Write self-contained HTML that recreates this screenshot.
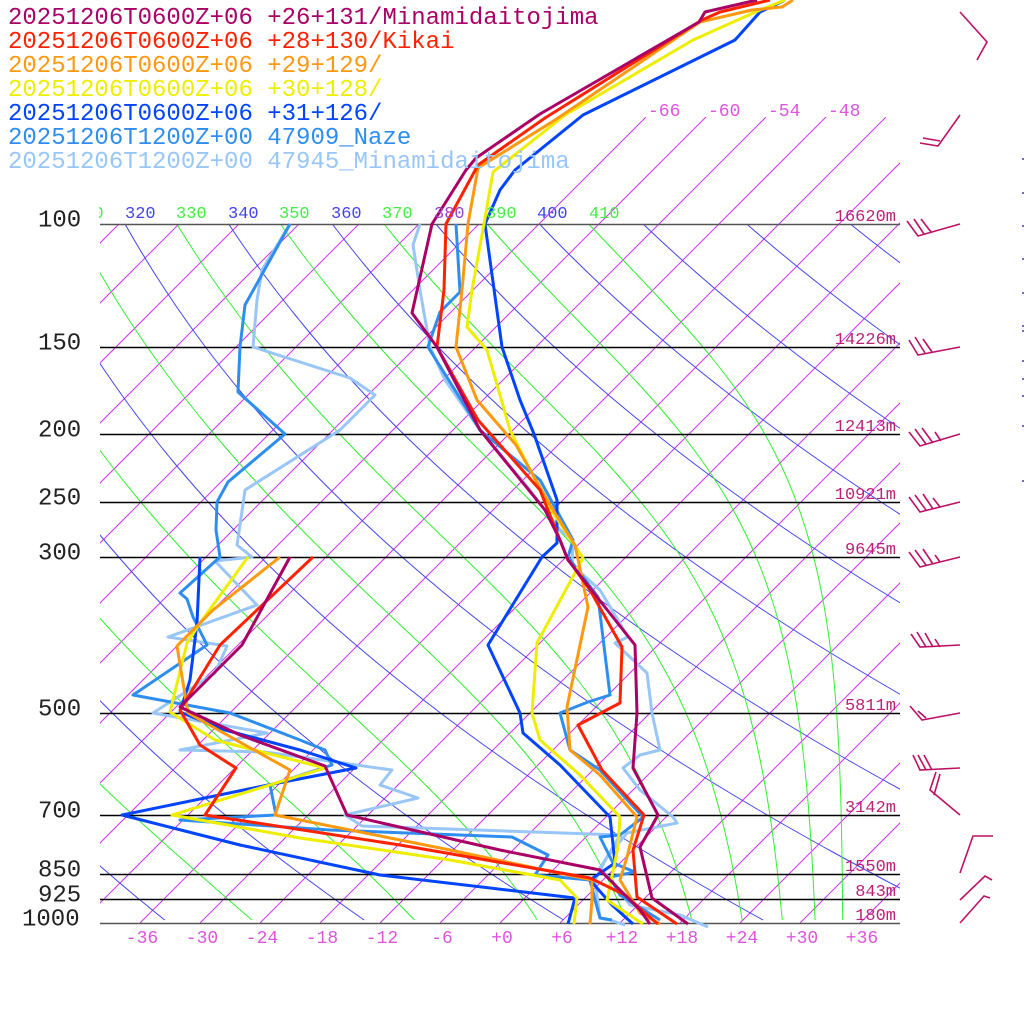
<!DOCTYPE html>
<html><head><meta charset="utf-8"><style>
html,body{margin:0;padding:0;background:#fff;}
svg{display:block;}
text{font-family:"Liberation Mono","DejaVu Sans Mono",monospace;}
</style></head><body>
<svg id="s" width="1024" height="1024" viewBox="0 0 1024 1024" xmlns="http://www.w3.org/2000/svg">
<defs>
<clipPath id="cp"><rect x="100" y="224" width="800" height="699"/></clipPath>
<clipPath id="cpi"><rect x="100" y="117" width="800" height="806"/></clipPath>
</defs>
<g id="grid"></g>
<g id="data" fill="none" stroke-width="3" stroke-linejoin="round"></g>
<g id="barbs" fill="none" stroke="#bb1166" stroke-width="1.6"></g>
<g id="txt"></g>
</svg>
<script>
var NS="http://www.w3.org/2000/svg";
function el(p,tag,a,t){var e=document.createElementNS(NS,tag);for(var k in a)e.setAttribute(k,a[k]);if(t!==undefined)e.textContent=t;p.appendChild(e);return e;}
var grid=document.getElementById('grid'),data=document.getElementById('data'),barbs=document.getElementById('barbs'),txt=document.getElementById('txt');
var K=303.6;
function Y(p){return 923-K*Math.log(1000/p);}
function P(y){return 1000*Math.exp(-(923-y)/K);}
function X(T,y){return 500+10*T+(923-y);}
var gi=el(grid,'g',{'clip-path':'url(#cpi)',stroke:'#cc33ee','stroke-width':'1'});
for(var T=-150;T<=42;T+=6){
  var ytop=(T>=-66)?117:224;
  el(gi,'line',{x1:X(T,923),y1:923,x2:X(T,ytop),y2:ytop});
}
var gd=el(grid,'g',{'clip-path':'url(#cp)',fill:'none',stroke:'#4444ee','stroke-width':'1'});
for(var th=200;th<=520;th+=20){
  var pts=[];for(var y=224;y<=923;y+=4){var p=P(y);var Tk=th*Math.pow(p/1000,0.2857);pts.push(X(Tk-273.15,y).toFixed(1)+','+y);}
  el(gd,'polyline',{points:pts.join(' ')});
}
function es(Tc){return 6.112*Math.exp(17.67*Tc/(Tc+243.5));}
function the(Tk,p){var e=es(Tk-273.15);if(e>p*0.5)e=p*0.5;var r=0.622*e/(p-e);return Tk*Math.pow(1000/p,0.2857)*Math.exp(2.5e6*r/(1004*Tk));}
var gm=el(grid,'g',{'clip-path':'url(#cp)',fill:'none',stroke:'#33ee33','stroke-width':'1'});
for(var te=230;te<=410;te+=20){
  var pts=[];for(var y=224;y<=923;y+=4){var p=P(y);var lo=150,hi=345;
    for(var i=0;i<40;i++){var m=(lo+hi)/2;if(the(m,p)<te)lo=m;else hi=m;}
    pts.push(X(lo-273.15,y).toFixed(1)+','+y);}
  el(gm,'polyline',{points:pts.join(' ')});
}
[[310,'#44ee44',73],[320,'#4444ee',125],[330,'#44ee44',176],[340,'#4444ee',228],[350,'#44ee44',279],[360,'#4444ee',331],[370,'#44ee44',382],[380,'#9944cc',434],[390,'#44ee44',486],[400,'#4444ee',537],[410,'#44ee44',589]].forEach(function(a){
  el(txt,'text',{x:a[2],y:218,fill:a[1],'font-size':'17'},String(a[0]));
});
el(txt,'rect',{x:0,y:200,width:99,height:20,fill:'#fff'});
[[-66,648],[-60,708],[-54,768],[-48,828]].forEach(function(a){el(txt,'text',{x:a[1],y:116,fill:'#dd55dd','font-size':'18'},String(a[0]));});
[[100,'100',38],[150,'150',38],[200,'200',38],[250,'250',38],[300,'300',38],[500,'500',38],[700,'700',38],[850,'850',38],[925,'925',38],[1000,'1000',22]].forEach(function(a){
  var y=Math.round(Y(a[0]))+0.5;
  el(grid,'line',{x1:100,y1:y,x2:900,y2:y,stroke:a[0]==1000||a[0]==100?'#555':'#000','stroke-width':'1.5'});
  el(txt,'text',{x:a[2],y:y+2,fill:'#222','font-size':'24'},a[1]);
});
[[100,'16620m'],[150,'14226m'],[200,'12413m'],[250,'10921m'],[300,'9645m'],[500,'5811m'],[700,'3142m'],[850,'1550m'],[925,'843m'],[1000,'180m']].forEach(function(a){
  el(txt,'text',{x:896,y:Math.round(Y(a[0]))-3,fill:'#bb2277','font-size':'17','text-anchor':'end'},a[1]);
});
for(var T=-36;T<=36;T+=6){el(txt,'text',{x:500+10*T+2,y:943,fill:'#dd55dd','font-size':'18','text-anchor':'middle'},(T>=0?'+':'')+T);}
[['20251206T0600Z+06 +26+131/Minamidaitojima','#aa0066'],['20251206T0600Z+06 +28+130/Kikai','#ff2200'],['20251206T0600Z+06 +29+129/','#ff9911'],['20251206T0600Z+06 +30+128/','#eeee00'],['20251206T0600Z+06 +31+126/','#0044ff'],['20251206T1200Z+00 47909_Naze','#2e8ef0'],['20251206T1200Z+00 47945_Minamidaitojima','#99c6f8']].forEach(function(a,i){
  el(txt,'text',{x:8,y:24+24*i,fill:a[1],'font-size':'24'},a[0]);
});
var S={
'#99c6f8':[
 [[420,224],[413,245],[420,290],[430,347],[445,380],[480,430],[530,490],[560,530],[573,540],[572,565],[600,590],[628,637],[615,643],[647,673],[652,713],[660,750],[640,755],[623,768],[640,790],[673,817],[677,823],[627,833],[607,857],[600,868],[615,885],[630,905],[680,915],[708,927]],
 [[290,224],[262,270],[257,300],[253,347],[350,378],[375,395],[340,430],[245,490],[240,525],[237,545],[252,557],[215,561],[257,605],[168,637],[227,646],[215,673],[153,713],[267,733],[180,750],[265,752],[392,770],[380,785],[418,798],[345,815],[362,826],[620,835],[607,857],[595,880],[600,918],[610,920],[625,925]]],
'#2e8ef0':[
 [[456,224],[460,292],[440,312],[432,335],[428,347],[480,430],[540,480],[573,540],[568,557],[598,597],[610,695],[588,702],[560,713],[570,750],[600,770],[643,817],[642,818],[620,835],[600,837],[613,863],[635,872],[610,877],[620,895],[660,920]],
 [[290,224],[245,305],[240,347],[238,392],[285,434],[228,482],[217,502],[216,530],[220,557],[180,593],[187,599],[193,617],[207,645],[133,695],[230,713],[300,740],[325,750],[332,765],[270,785],[276,815],[180,820],[330,830],[512,837],[548,855],[535,875],[590,880],[595,900],[600,918],[612,920]]],
'#0044ff':[
 [[785,0],[760,12],[735,40],[583,115],[515,170],[500,190],[485,224],[502,347],[520,400],[534,434],[557,500],[557,543],[542,557],[488,645],[520,713],[523,733],[560,765],[610,817],[615,863],[590,880],[612,905],[633,924]],
 [[200,557],[197,623],[190,680],[180,712],[225,730],[300,750],[356,768],[268,785],[122,815],[240,845],[380,875],[575,898],[568,924]]],
'#eeee00':[
 [[785,0],[760,10],[693,40],[565,115],[493,172],[484,224],[472,290],[467,327],[487,350],[510,430],[548,505],[583,558],[537,643],[532,713],[540,740],[580,775],[620,817],[618,847],[607,900],[643,924]],
 [[248,557],[200,623],[187,643],[170,712],[215,740],[325,768],[172,815],[300,838],[450,860],[560,880],[577,898],[574,924]]],
'#ff9911':[
 [[793,0],[782,7],[752,10],[700,22],[555,120],[478,168],[468,224],[462,290],[456,347],[477,400],[516,445],[550,505],[575,545],[588,607],[567,707],[570,750],[600,775],[637,817],[627,857],[620,880],[640,913],[660,924]],
 [[280,557],[213,610],[177,646],[188,713],[245,745],[290,770],[275,815],[450,850],[592,880],[592,900],[590,924]]],
'#ff2200':[
 [[770,0],[720,12],[702,20],[545,118],[478,165],[446,224],[444,290],[437,347],[478,420],[540,490],[560,540],[567,558],[590,590],[622,647],[620,703],[578,725],[602,770],[644,815],[633,850],[637,897],[677,924]],
 [[313,557],[220,645],[180,710],[200,745],[236,768],[205,815],[400,845],[590,878],[625,895],[645,913],[658,924]]],
'#aa0066':[
 [[757,0],[705,12],[699,22],[540,114],[476,158],[466,170],[432,224],[412,313],[437,347],[480,430],[545,510],[560,540],[568,560],[597,597],[635,645],[637,713],[633,768],[658,815],[640,847],[652,898],[688,924]],
 [[290,557],[242,645],[220,667],[180,707],[240,735],[325,766],[347,815],[500,850],[600,870],[620,890],[640,910],[650,924]]]
};
['#99c6f8','#2e8ef0','#0044ff','#eeee00','#ff9911','#ff2200','#aa0066'].forEach(function(c){
  S[c].forEach(function(pl){el(data,'polyline',{points:pl.map(function(p){return p.join(',');}).join(' '),stroke:c});});
});
var B=[
 [[960,12],[987,42],[977,60]],
 [[960,115],[938,146],[920,143]],[[923,138],[940,141]],
 [[960,224],[918,236],[907,221]],[[924,234],[914,219]],[[931,232],[921,219]],
 [[960,347],[918,355],[909,340]],[[925,353],[915,337]],[[932,352],[923,339]],
 [[960,434],[920,446],[909,432]],[[926,444],[915,429]],[[933,443],[922,428]],[[941,441],[935,432]],
 [[960,502],[920,512],[909,497]],[[926,510],[915,495]],[[933,509],[923,494]],[[940,507],[933,498]],
 [[960,557],[920,567],[909,552]],[[926,565],[915,550]],[[933,564],[923,549]],[[940,562],[935,555]],
 [[960,645],[920,647],[911,634]],[[926,647],[917,632]],[[933,647],[925,633]],[[940,647],[935,639]],
 [[960,713],[922,720],[910,706]],[[926,718],[918,711]],
 [[960,768],[920,770],[913,755]],[[926,770],[918,755]],[[932,770],[924,755]],
 [[960,815],[930,790],[936,772]],[[934,795],[940,774]],
 [[960,873],[973,836],[993,836]],
 [[960,900],[985,876],[992,880]],
 [[960,923],[984,896],[990,898]]
];
B.forEach(function(pl){el(barbs,'polyline',{points:pl.map(function(p){return p.join(',');}).join(' ')});});
[158,192,225,258,292,325,330,360,378,395,425,480].forEach(function(y){el(grid,'rect',{x:1022,y:y,width:2,height:2,fill:'#7766cc'});});
</script>
</body></html>
